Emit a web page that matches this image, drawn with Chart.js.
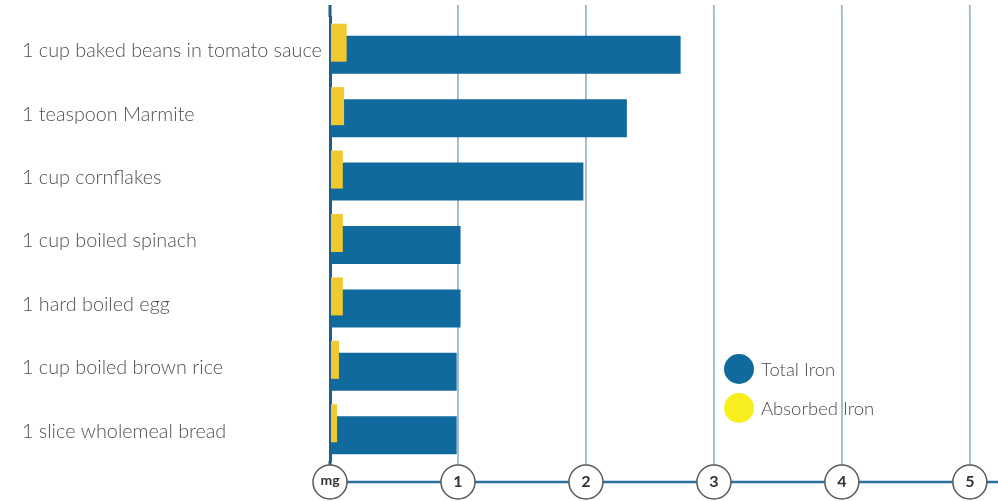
<!DOCTYPE html>
<html>
<head>
<meta charset="utf-8">
<script src="https://cdn.jsdelivr.net/npm/chart.js@4.4.0/dist/chart.umd.min.js"></script>
<style>
  html, body { margin: 0; padding: 0; background: #ffffff; }
  #wrap { position: relative; width: 998px; height: 501px; }
  #legend { position: absolute; left: 724px; top: 349px; font-family: Lato, sans-serif; font-weight: 300; font-size: 18.5px; color: #4a4a4a; }
  #legend div { display: flex; align-items: center; height: 39px; }
  #legend span.dot { display: inline-block; width: 30px; height: 30px; border-radius: 50%; margin-right: 7px; }
</style>
</head>
<body>
<div id="wrap">
  <canvas id="chart" width="998" height="501"></canvas>
  <div id="legend"></div>
</div>
<script>
// foods, top to bottom
const foods = [
    "1 cup baked beans in tomato sauce",
    "1 teaspoon Marmite",
    "1 cup cornflakes",
    "1 cup boiled spinach",
    "1 hard boiled egg",
    "1 cup boiled brown rice",
    "1 slice wholemeal bread"
];
// iron in mg
const totalIron = [2.74, 2.32, 1.98, 1.02, 1.02, 0.99, 0.99];
const absorbedIron = [0.13, 0.11, 0.10, 0.10, 0.10, 0.07, 0.055];
const xTickValues = [0, 1, 2, 3, 4, 5];
const xTickLabels = ["mg", "1", "2", "3", "4", "5"];

const blue = '#106a9e';
const yellow = '#f1c92e';

// legend (html overlay, same order as the picture)
const legendItems = [["Total Iron", blue], ["Absorbed Iron", '#f6ee1f']];
document.getElementById('legend').innerHTML = legendItems.map(it =>
    `<div><span class="dot" style="background:${it[1]}"></span>${it[0]}</div>`).join('');

// circles round the x tick labels + the blue base line
const circleTicks = {
    id: 'circleTicks',
    beforeDatasetsDraw(chart) {
        const ctx = chart.ctx;
        const x = chart.scales.x;
        const area = chart.chartArea;
        const cy = 482;
        ctx.save();
        // grid lines go a bit above the plot area
        ctx.strokeStyle = '#a7bccb';
        ctx.lineWidth = 2;
        x.ticks.forEach(t => {
            if (t.value === 0) return;
            const px = x.getPixelForValue(t.value);
            ctx.beginPath();
            ctx.moveTo(px, 5);
            ctx.lineTo(px, area.top);
            ctx.stroke();
        });
        ctx.strokeStyle = '#1b5f8c';
        ctx.lineWidth = 3;
        ctx.beginPath();
        ctx.moveTo(area.left, 5);
        ctx.lineTo(area.left, area.top);
        ctx.moveTo(area.left, area.bottom);
        ctx.lineTo(area.left, 466);
        ctx.stroke();

        ctx.strokeStyle = '#2a6f9c';
        ctx.lineWidth = 2.5;
        ctx.beginPath();
        ctx.moveTo(area.left, cy);
        ctx.lineTo(chart.width, cy);
        ctx.stroke();
        x.ticks.forEach(t => {
            const px = x.getPixelForValue(t.value);
            ctx.beginPath();
            ctx.arc(px, cy, 17, 0, Math.PI * 2);
            ctx.fillStyle = '#ffffff';
            ctx.fill();
            ctx.strokeStyle = '#5a5a5a';
            ctx.lineWidth = 1.5;
            ctx.stroke();
        });
        ctx.restore();
    }
};

new Chart(document.getElementById('chart'), {
    type: 'bar',
    data: {
        labels: foods,
        datasets: [
            { label: 'Absorbed Iron', data: absorbedIron, backgroundColor: yellow },
            { label: 'Total Iron', data: totalIron, backgroundColor: blue }
        ]
    },
    options: {
        indexAxis: 'y',
        responsive: false,
        animation: false,
        categoryPercentage: 0.3784,
        barPercentage: 3.1667,
        layout: { padding: { left: 22, top: 17, right: 0, bottom: 0 } },
        plugins: {
            legend: { display: false },
            tooltip: { enabled: false }
        },
        scales: {
            x: {
                min: 0,
                max: 5.22,
                afterBuildTicks: (scale) => {
                    scale.ticks = xTickValues.map(v => ({ value: v }));
                },
                afterFit: (scale) => { scale.height = 40; },
                grid: {
                    color: (c) => c.tick && c.tick.value === 0 ? 'rgba(0,0,0,0)' : '#a7bccb',
                    lineWidth: 2,
                    tickLength: 9
                },
                border: { display: false },
                ticks: {
                    z: 1,
                    padding: 2,
                    color: '#333333',
                    font: (c) => ({ family: 'Lato', size: c.tick && c.tick.value === 0 ? 14 : 16, weight: 'bold' }),
                    callback: (v) => xTickLabels[xTickValues.indexOf(v)]
                }
            },
            y: {
                afterFit: (scale) => { scale.width = 308; },
                grid: { display: false },
                border: { color: '#1b5f8c', width: 3 },
                ticks: {
                    crossAlign: 'far',
                    labelOffset: 2,
                    color: '#505050',
                    font: { family: 'Lato', size: 19.8, weight: 300 }
                }
            }
        }
    },
    plugins: [circleTicks]
});
</script>
</body>
</html>
